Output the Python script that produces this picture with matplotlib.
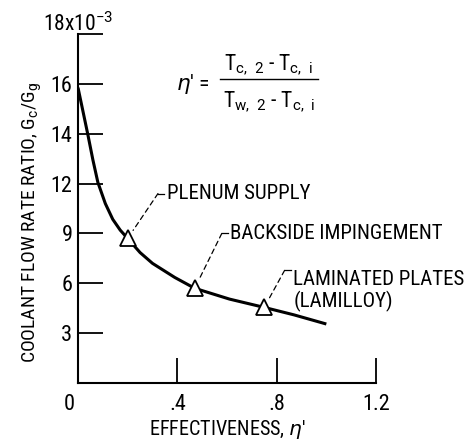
import numpy as np
import matplotlib
matplotlib.use("Agg")
import matplotlib.pyplot as plt
from matplotlib.transforms import ScaledTranslation

plt.rcParams['font.family'] = ['Roboto Condensed', 'DejaVu Sans Condensed',
                               'Liberation Sans Narrow', 'Roboto', 'DejaVu Sans']
plt.rcParams['mathtext.fontset'] = 'custom'
plt.rcParams['mathtext.rm'] = 'Roboto'
plt.rcParams['mathtext.it'] = 'DejaVu Sans:italic'

# coolant flow ratio curve (x10^-3) vs effectiveness
eff = [0, 0.02, 0.04, 0.06, 0.08, 0.11, 0.14, 0.17, 0.20, 0.25, 0.30,
       0.39, 0.47, 0.61, 0.75, 0.87, 1.0]
flow = [15.85, 14.9, 13.95, 12.95, 12.05, 10.8, 9.85, 9.2, 8.7, 7.85, 7.2,
        6.35, 5.7, 5.05, 4.55, 4.1, 3.55]

# cooling schemes
scheme_eff = [0.20, 0.47, 0.75]
scheme_flow = [8.7, 5.7, 4.55]
scheme_names = ["PLENUM SUPPLY", "BACKSIDE IMPINGEMENT", "LAMINATED PLATES\n(LAMILLOY)"]
label_pos = [(0.322, 11.4), (0.579, 9.0), (0.832, 6.78)]

yticks = [0, 3, 6, 9, 12, 14, 16, 18]
ytick_labels = ["", "3", "6", "9", "12", "14", "16", ""]
xticks = [0, 0.4, 0.8, 1.2]
xtick_labels = ["0", ".4", ".8", "1.2"]


# y axis is stretched above 12
def fwd(y):
    y = np.asarray(y, dtype=float)
    return np.where(y <= 12, y / 3.0, 4 + (y - 12) / 2.0)


def inv(p):
    p = np.asarray(p, dtype=float)
    return np.where(p <= 4, p * 3.0, 12 + (p - 4) * 2.0)


fig = plt.figure(figsize=(4.71, 4.43), dpi=100)
ax = fig.add_axes([0.1656, 0.1354, 0.6327, 0.7878])
ax.set_yscale('function', functions=(fwd, inv))
ax.set_xlim(0, 1.2)
ax.set_ylim(0, 18)

ax.plot(eff, flow, color='black', lw=2.2, zorder=3, solid_capstyle='butt')
ax.plot(scheme_eff, scheme_flow, ls='none', marker='^', ms=12,
        mfc='white', mec='black', mew=1.3, zorder=4)

for (sx, sy), name, (lx, ly) in zip(zip(scheme_eff, scheme_flow), scheme_names, label_pos):
    ax.annotate("", xy=(sx, sy), xytext=(lx, ly),
                arrowprops=dict(arrowstyle='-', ls=(0, (4, 3)), lw=0.9,
                                color='black', shrinkA=0, shrinkB=7))
    ax.plot([lx, lx + 0.025], [ly, ly], color='black', lw=0.9)
    ax.text(lx + 0.035, ly, name, fontsize=15, va='top' if '\n' in name else 'center',
            ha='left', linespacing=1.1)

for s in ['top', 'right']:
    ax.spines[s].set_visible(False)
for s in ['left', 'bottom']:
    ax.spines[s].set_linewidth(1.5)

ax.set_yticks(yticks)
ax.set_yticklabels(ytick_labels)
ax.set_xticks(xticks)
ax.set_xticklabels(xtick_labels)
ax.yaxis.set_minor_locator(matplotlib.ticker.NullLocator())
ax.tick_params(axis='both', direction='in', length=18, width=1.3, labelsize=16)
ax.tick_params(axis='y', pad=4)
ax.tick_params(axis='x', pad=8)
# origin label sits a little left of the corner
zero_lab = ax.get_xticklabels()[0]
zero_lab.set_transform(zero_lab.get_transform() + ScaledTranslation(-9 / 100, 0, fig.dpi_scale_trans))

ax.text(0.0, 18.12, r"18x10$^{-3}$", fontsize=15.5, ha='center', va='baseline')

ax.set_xlabel(r"EFFECTIVENESS, $\eta$'", fontsize=14.5, labelpad=2)
ax.set_ylabel(r"COOLANT FLOW RATE RATIO, G$_\mathrm{c}$/G$_\mathrm{g}$", fontsize=14)
ax.yaxis.set_label_coords(-0.115, 0.46)

# effectiveness definition
ax.text(0.53, 16.0, r"$\eta$' =", fontsize=15.5, ha='right', va='center')
ax.text(0.768, 16.76, r"T$_\mathrm{c,\ 2}$ - T$_\mathrm{c,\ i}$", fontsize=15.5, ha='center', va='center')
ax.text(0.768, 15.28, r"T$_\mathrm{w,\ 2}$ - T$_\mathrm{c,\ i}$", fontsize=15.5, ha='center', va='center')
ax.plot([0.571, 0.965], [16.2, 16.2], color='black', lw=1.0)

fig.savefig("out.png", dpi=100)
